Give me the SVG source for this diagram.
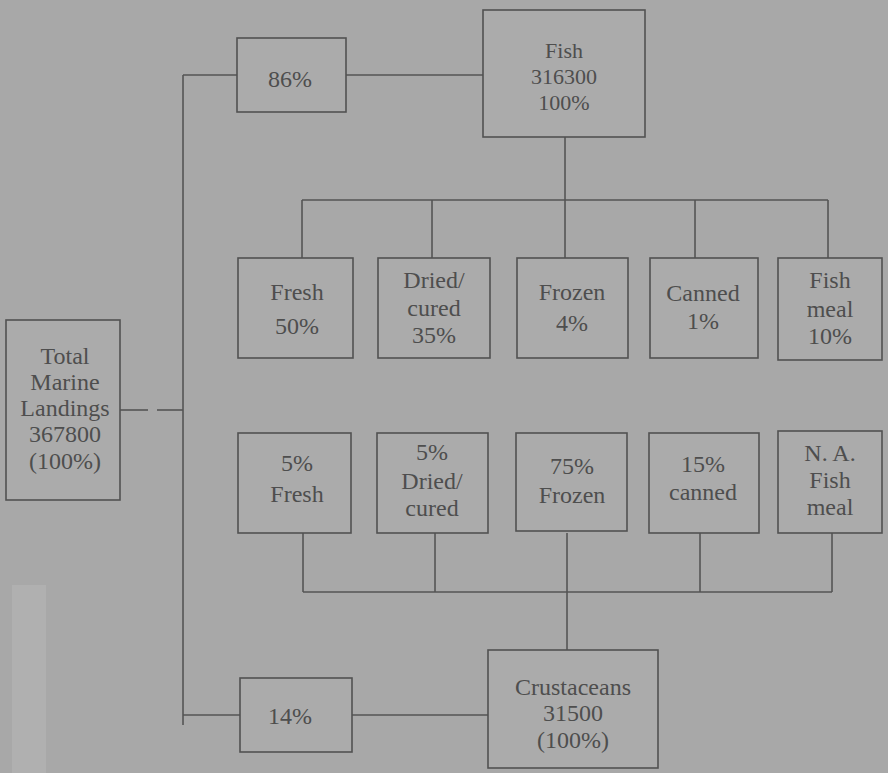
<svg xmlns="http://www.w3.org/2000/svg" width="888" height="773" viewBox="0 0 888 773">
<style>
.bg{fill:#a8a8a8}
.box{fill:#ababab;stroke:#525252;stroke-width:1.6}
.ln{stroke:#555;stroke-width:1.6;fill:none}
text{font-family:"Liberation Serif","DejaVu Serif",serif;font-size:24px;fill:#4e4e4e;text-anchor:middle;dominant-baseline:central}
.sm{font-size:22px}
</style>
<rect class="bg" x="0" y="0" width="888" height="773"/>
<rect x="12" y="585" width="34" height="188" fill="#b0b0b0"/>
<g id="connectors">
<line class="ln" x1="120" y1="410" x2="148" y2="410"/>
<line class="ln" x1="157" y1="410" x2="183" y2="410"/>
<line class="ln" x1="183" y1="75" x2="183" y2="725"/>
<line class="ln" x1="183" y1="75" x2="237" y2="75"/>
<line class="ln" x1="346" y1="75" x2="483" y2="75"/>
<line class="ln" x1="183" y1="715" x2="240" y2="715"/>
<line class="ln" x1="352" y1="715" x2="488" y2="715"/>
<line class="ln" x1="565" y1="137" x2="565" y2="200"/>
<line class="ln" x1="302" y1="200" x2="828" y2="200"/>
<line class="ln" x1="302" y1="200" x2="302" y2="258"/>
<line class="ln" x1="432" y1="200" x2="432" y2="258"/>
<line class="ln" x1="565" y1="200" x2="565" y2="258"/>
<line class="ln" x1="695" y1="200" x2="695" y2="258"/>
<line class="ln" x1="828" y1="200" x2="828" y2="258"/>
<line class="ln" x1="303" y1="533" x2="303" y2="592"/>
<line class="ln" x1="435" y1="533" x2="435" y2="592"/>
<line class="ln" x1="567" y1="533" x2="567" y2="650"/>
<line class="ln" x1="700" y1="533" x2="700" y2="592"/>
<line class="ln" x1="832" y1="533" x2="832" y2="592"/>
<line class="ln" x1="303" y1="592" x2="832" y2="592"/>
</g>
<g id="total"><rect class="box" x="6" y="320" width="114" height="180"/>
<text x="65" y="356">Total</text><text x="65" y="382">Marine</text><text x="65" y="408">Landings</text><text x="65" y="434">367800</text><text x="65" y="461">(100%)</text></g>
<g id="p86"><rect class="box" x="237" y="38" width="109" height="74"/><text x="290" y="79">86%</text></g>
<g id="fish"><rect class="box" x="483" y="10" width="162" height="127"/>
<text class="sm" x="564" y="50">Fish</text><text class="sm" x="564" y="76">316300</text><text class="sm" x="564" y="102">100%</text></g>
<g id="f-fresh"><rect class="box" x="238" y="258" width="115" height="100"/><text x="297" y="292">Fresh</text><text x="297" y="326">50%</text></g>
<g id="f-dried"><rect class="box" x="378" y="258" width="112" height="100"/><text x="434" y="280">Dried/</text><text x="434" y="308">cured</text><text x="434" y="335">35%</text></g>
<g id="f-frozen"><rect class="box" x="517" y="258" width="111" height="100"/><text x="572" y="292">Frozen</text><text x="572" y="323">4%</text></g>
<g id="f-canned"><rect class="box" x="650" y="258" width="108" height="100"/><text x="703" y="293">Canned</text><text x="703" y="321">1%</text></g>
<g id="f-meal"><rect class="box" x="778" y="258" width="104" height="102"/><text x="830" y="280">Fish</text><text x="830" y="309">meal</text><text x="830" y="336">10%</text></g>
<g id="c-fresh"><rect class="box" x="238" y="433" width="113" height="100"/><text x="297" y="463">5%</text><text x="297" y="494">Fresh</text></g>
<g id="c-dried"><rect class="box" x="377" y="433" width="111" height="100"/><text x="432" y="452">5%</text><text x="432" y="481">Dried/</text><text x="432" y="508">cured</text></g>
<g id="c-frozen"><rect class="box" x="516" y="433" width="111" height="98"/><text x="572" y="466">75%</text><text x="572" y="495">Frozen</text></g>
<g id="c-canned"><rect class="box" x="649" y="433" width="110" height="100"/><text x="703" y="464">15%</text><text x="703" y="492">canned</text></g>
<g id="c-meal"><rect class="box" x="778" y="431" width="104" height="102"/><text x="830" y="453">N. A.</text><text x="830" y="480">Fish</text><text x="830" y="507">meal</text></g>
<g id="p14"><rect class="box" x="240" y="678" width="112" height="74"/><text x="290" y="716">14%</text></g>
<g id="crust"><rect class="box" x="488" y="650" width="170" height="118"/>
<text x="573" y="687">Crustaceans</text><text x="573" y="713">31500</text><text x="573" y="740">(100%)</text></g>
</svg>
